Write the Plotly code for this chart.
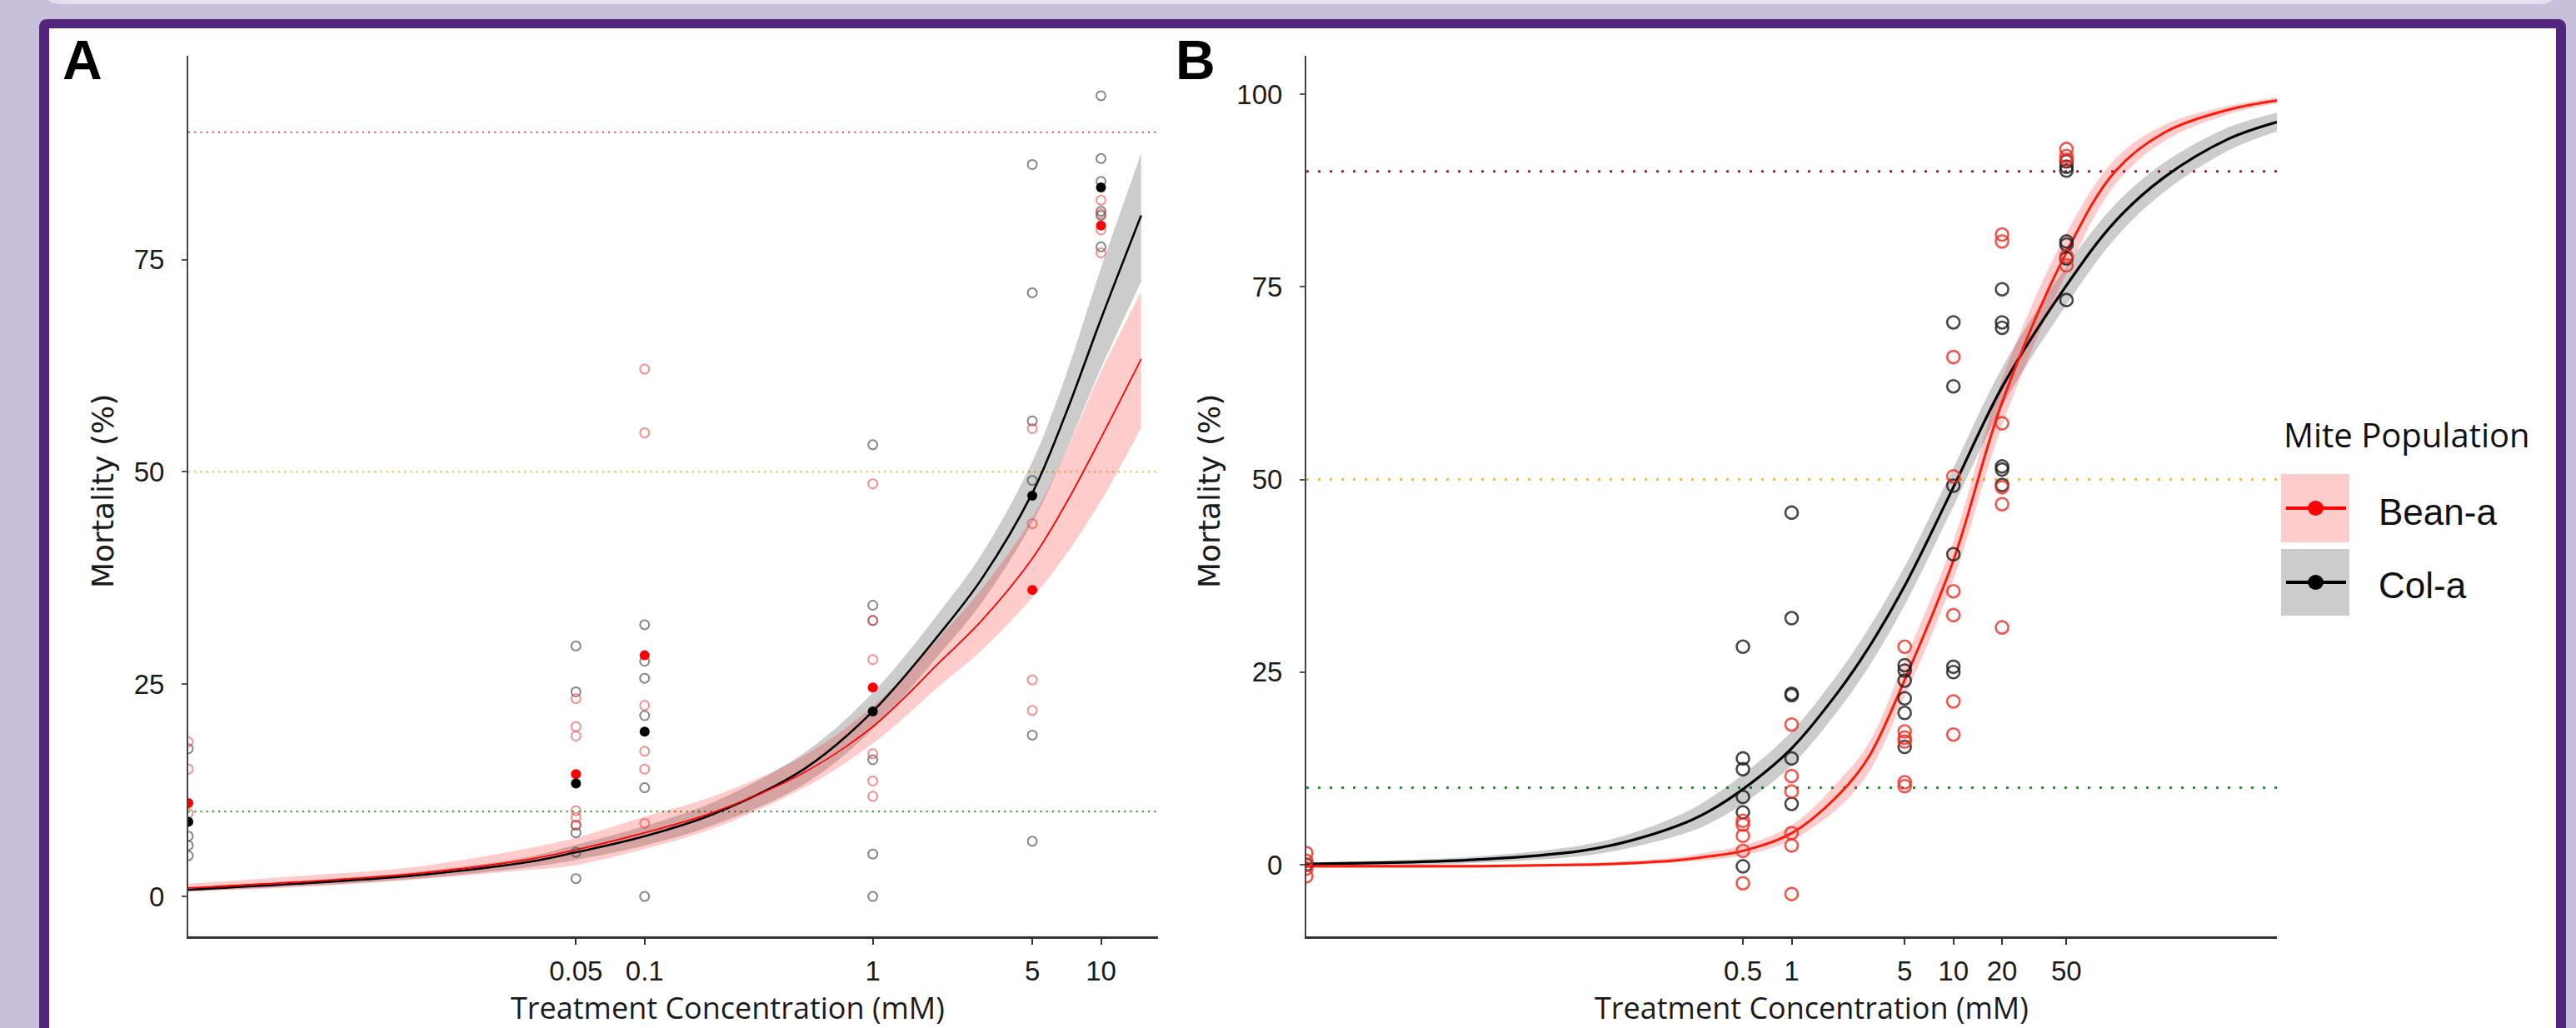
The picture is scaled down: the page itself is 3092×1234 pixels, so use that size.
import plotly.graph_objects as go

W, H = 3092, 1234

# ---------------- data ----------------
CONTROL = 0.001  # untreated controls are drawn at the left edge

# Panel A
A_tick_vals = [0.05, 0.1, 1, 5, 10]
A_tick_text = ["0.05", "0.1", "1", "5", "10"]
A_y_ticks = [0, 25, 50, 75]

A_fit_conc = [0.001, 0.003, 0.01, 0.03, 0.05, 0.1, 0.2, 0.5, 1, 2, 3, 5, 7, 10, 15]
A_col_fit = [0.8, 1.5, 2.5, 4.0, 5.2, 7.1, 9.7, 15.0, 21.8, 31.2, 37.4, 47.5, 56.8, 68.0, 80.2]
A_col_lo = [0.6, 1.2, 2.1, 3.4, 4.3, 6.0, 8.4, 13.2, 19.7, 28.8, 34.6, 44.0, 52.4, 62.2, 72.4]
A_col_hi = [1.0, 1.8, 2.9, 4.6, 6.1, 8.3, 11.1, 16.9, 24.0, 33.8, 40.3, 51.2, 61.3, 74.0, 87.5]
A_bean_fit = [1.0, 1.7, 2.7, 4.3, 5.5, 7.5, 9.9, 14.6, 20.0, 27.8, 32.5, 39.8, 46.2, 54.0, 63.3]
A_bean_lo = [0.6, 1.1, 2.0, 3.1, 3.7, 5.6, 8.0, 12.8, 18.0, 25.0, 29.0, 35.2, 40.2, 46.6, 55.2]
A_bean_hi = [1.5, 2.4, 3.5, 5.6, 6.9, 9.4, 11.8, 16.6, 22.4, 30.8, 36.2, 44.6, 52.4, 61.8, 71.2]

A_col_reps = {
    0.001: [17.4, 7.1, 6.0, 4.8],
    0.05: [29.5, 24.1, 8.4, 7.5, 5.2, 2.1],
    0.1: [32.0, 27.7, 25.7, 21.3, 12.8, 0.0],
    1: [53.2, 34.3, 32.5, 16.1, 5.0, 0.0],
    5: [86.2, 71.1, 56.0, 49.0, 19.0, 6.5],
    10: [94.3, 86.9, 84.2, 80.7, 80.2, 76.5],
}
A_bean_reps = {
    0.001: [18.2, 15.0, 9.8],
    0.05: [23.3, 20.0, 18.9, 10.1, 9.3, 8.4],
    0.1: [62.1, 54.6, 22.5, 17.1, 15.0, 8.6],
    1: [48.6, 32.5, 27.9, 16.8, 13.6, 11.8],
    5: [55.1, 43.9, 25.5, 21.9],
    10: [82.0, 80.4, 78.5, 75.8],
}
A_mean_conc = [0.001, 0.05, 0.1, 1, 5, 10]
A_col_mean = [8.8, 13.3, 19.4, 21.8, 47.2, 83.5]
A_bean_mean = [11.0, 14.4, 28.4, 24.6, 36.1, 79.0]

# Panel B
B_tick_vals = [0.5, 1, 5, 10, 20, 50]
B_tick_text = ["0.5", "1", "5", "10", "20", "50"]
B_y_ticks = [0, 25, 50, 75, 100]

B_fit_conc = [0.001, 0.01, 0.05, 0.1, 0.2, 0.3, 0.5, 1, 2, 3, 5, 10, 20, 50, 100, 200, 500, 1000]
B_col_fit = [0.1, 0.6, 1.8, 3.1, 5.1, 6.8, 9.8, 15.1, 22.8, 28.2, 36.2, 49.0, 62.0, 75.2, 83.5, 89.2, 94.2, 96.4]
B_col_lo = [-0.2, 0.2, 1.1, 2.2, 3.8, 5.2, 7.9, 12.9, 20.4, 25.7, 33.7, 46.5, 59.5, 72.7, 81.3, 87.3, 92.7, 95.2]
B_col_hi = [0.3, 1.0, 2.5, 4.0, 6.4, 8.4, 11.7, 17.3, 25.2, 30.7, 38.7, 51.5, 64.5, 77.7, 85.7, 91.1, 95.7, 97.6]
B_bean_fit = [-0.2, -0.2, 0.0, 0.2, 0.6, 1.05, 1.8, 4.1, 9.3, 14.0, 24.0, 39.5, 60.0, 79.5, 90.0, 95.0, 98.0, 99.2]
B_bean_lo = [-0.4, -0.4, -0.2, 0.0, 0.3, 0.6, 1.2, 3.2, 7.6, 12.0, 21.8, 37.0, 57.0, 76.8, 88.3, 93.9, 97.4, 98.8]
B_bean_hi = [0.0, 0.0, 0.2, 0.5, 1.0, 1.6, 2.5, 5.1, 11.1, 15.8, 26.5, 42.0, 63.0, 82.0, 91.6, 96.0, 98.5, 99.6]

B_col_reps = {
    0.001: [0.0],
    0.5: [28.3, 13.8, 12.4, 8.8, 6.8, -0.2],
    1: [45.7, 32.0, 22.2, 22.0, 13.8, 7.9],
    5: [25.9, 25.2, 23.9, 21.6, 19.7, 15.3],
    10: [70.4, 62.1, 49.2, 40.3, 25.7, 25.0],
    20: [74.7, 70.4, 69.7, 51.7, 51.3, 49.3],
    50: [91.3, 90.6, 90.1, 80.9, 80.5, 78.7, 73.3],
}
B_bean_reps = {
    0.001: [1.5, 0.5, -0.5, -1.5],
    0.5: [5.7, 5.2, 3.75, 1.8, -2.4],
    1: [18.2, 11.5, 9.5, 4.1, 2.5, -3.8],
    5: [28.3, 17.3, 16.5, 16.0, 10.7, 10.2],
    10: [65.9, 50.4, 35.5, 32.4, 21.2, 16.9],
    20: [81.8, 80.9, 57.3, 49.0, 46.8, 30.8],
    50: [92.9, 92.0, 91.5, 79.0, 77.8],
}

REF_LEVELS = [90, 50, 10]

# ---------------- helpers ----------------
def flat(d):
    xs, ys = [], []
    for k, vals in d.items():
        for v in vals:
            xs.append(k)
            ys.append(v)
    return xs, ys

def px(x):
    return x / W

def py(y):
    return 1 - y / H

fig = go.Figure()

def add_band(xv, lo, hi, color, xa, ya):
    fig.add_trace(go.Scatter(x=xv, y=lo, mode="lines", line=dict(width=0, shape="spline"),
                             xaxis=xa, yaxis=ya, showlegend=False, hoverinfo="skip"))
    fig.add_trace(go.Scatter(x=xv, y=hi, mode="lines", line=dict(width=0, shape="spline"),
                             fill="tonexty", fillcolor=color,
                             xaxis=xa, yaxis=ya, showlegend=False, hoverinfo="skip"))

RED_BAND = "rgba(255,0,0,0.2)"
GRAY_BAND = "rgba(0,0,0,0.2)"

# ---- Panel A ----
add_band(A_fit_conc, A_col_lo, A_col_hi, GRAY_BAND, "x", "y")
add_band(A_fit_conc, A_bean_lo, A_bean_hi, RED_BAND, "x", "y")
fig.add_trace(go.Scatter(x=A_fit_conc, y=A_col_fit, mode="lines",
                         line=dict(color="black", width=2.6, shape="spline"),
                         xaxis="x", yaxis="y", showlegend=False))
fig.add_trace(go.Scatter(x=A_fit_conc, y=A_bean_fit, mode="lines",
                         line=dict(color="#ff0000", width=1.8, shape="spline"),
                         xaxis="x", yaxis="y", showlegend=False))
xs, ys = flat(A_col_reps)
fig.add_trace(go.Scatter(x=xs, y=ys, mode="markers", xaxis="x", yaxis="y", showlegend=False,
                         marker=dict(symbol="circle-open", size=11,
                                     color="rgba(70,70,70,0.65)", line=dict(width=2))))
xs, ys = flat(A_bean_reps)
fig.add_trace(go.Scatter(x=xs, y=ys, mode="markers", xaxis="x", yaxis="y", showlegend=False,
                         marker=dict(symbol="circle-open", size=11,
                                     color="rgba(235,70,70,0.6)", line=dict(width=2))))
fig.add_trace(go.Scatter(x=A_mean_conc, y=A_bean_mean, mode="markers", xaxis="x", yaxis="y",
                         showlegend=False, marker=dict(symbol="circle", size=12, color="#ff0000")))
fig.add_trace(go.Scatter(x=A_mean_conc, y=A_col_mean, mode="markers", xaxis="x", yaxis="y",
                         showlegend=False, marker=dict(symbol="circle", size=12, color="black")))

# ---- Panel B ----
add_band(B_fit_conc, B_col_lo, B_col_hi, GRAY_BAND, "x2", "y2")
add_band(B_fit_conc, B_bean_lo, B_bean_hi, RED_BAND, "x2", "y2")
fig.add_trace(go.Scatter(x=B_fit_conc, y=B_col_fit, mode="lines",
                         line=dict(color="black", width=3.2, shape="spline"),
                         xaxis="x2", yaxis="y2", showlegend=False))
fig.add_trace(go.Scatter(x=B_fit_conc, y=B_bean_fit, mode="lines",
                         line=dict(color="#ff1a0a", width=3.0, shape="spline"),
                         xaxis="x2", yaxis="y2", showlegend=False))
xs, ys = flat(B_col_reps)
fig.add_trace(go.Scatter(x=xs, y=ys, mode="markers", xaxis="x2", yaxis="y2", showlegend=False,
                         marker=dict(symbol="circle-open", size=15,
                                     color="rgba(25,25,25,0.8)", line=dict(width=2.6))))
xs, ys = flat(B_bean_reps)
fig.add_trace(go.Scatter(x=xs, y=ys, mode="markers", xaxis="x2", yaxis="y2", showlegend=False,
                         marker=dict(symbol="circle-open", size=15,
                                     color="rgba(235,45,35,0.8)", line=dict(width=2.6))))

# ---------------- background / frame ----------------
shapes = []
LAV = "#c8bfdb"
PURPLE = "#52267f"

# light top band with rounded bottom corners
shapes.append(dict(type="path", xref="paper", yref="paper", layer="below",
                   path=(f"M {px(50):.6f},{py(-20):.6f} L {px(3072):.6f},{py(-20):.6f} "
                         f"Q {px(3072):.6f},{py(5):.6f} {px(3047):.6f},{py(5):.6f} "
                         f"L {px(75):.6f},{py(5):.6f} Q {px(50):.6f},{py(5):.6f} {px(50):.6f},{py(-20):.6f} Z"),
                   fillcolor="#e5e0ef", line=dict(width=0)))
# purple frame with rounded top corners
shapes.append(dict(type="path", xref="paper", yref="paper", layer="below",
                   path=(f"M {px(47):.6f},{py(1260):.6f} L {px(47):.6f},{py(33):.6f} "
                         f"Q {px(47):.6f},{py(23):.6f} {px(57):.6f},{py(23):.6f} "
                         f"L {px(3070):.6f},{py(23):.6f} Q {px(3080):.6f},{py(23):.6f} {px(3080):.6f},{py(33):.6f} "
                         f"L {px(3080):.6f},{py(1260):.6f} Z"),
                   fillcolor=PURPLE, line=dict(width=0)))
shapes.append(dict(type="rect", xref="paper", yref="paper", layer="below",
                   x0=px(59), x1=px(3068), y0=py(1260), y1=py(34),
                   fillcolor="white", line=dict(width=0)))

# reference (dotted) lines
A_ref_cols = {90: "#c0606a", 50: "#eec060", 10: "#4a9e4a"}
B_ref_cols = {90: "#8e2f40", 50: "#ecbd50", 10: "#33903a"}
for lvl in REF_LEVELS:
    shapes.append(dict(type="line", xref="x domain", yref="y", x0=0, x1=1, y0=lvl, y1=lvl,
                       line=dict(color=A_ref_cols[lvl], width=2.2, dash="2.2px,5px"), layer="below"))
    shapes.append(dict(type="line", xref="x2 domain", yref="y2", x0=0, x1=1, y0=lvl, y1=lvl,
                       line=dict(color=B_ref_cols[lvl], width=3, dash="3px,11px"), layer="below"))

# legend keys (drawn manually, ggplot style)
shapes.append(dict(type="rect", xref="paper", yref="paper", x0=px(2738), x1=px(2820), y0=py(651), y1=py(569),
                   fillcolor="#ffcccc", line=dict(width=0)))
shapes.append(dict(type="rect", xref="paper", yref="paper", x0=px(2738), x1=px(2820), y0=py(739), y1=py(659),
                   fillcolor="#cccccc", line=dict(width=0)))
for yc, col in [(610, "#ff0000"), (699, "black")]:
    shapes.append(dict(type="line", xref="paper", yref="paper", x0=px(2744), x1=px(2816), y0=py(yc), y1=py(yc),
                       line=dict(color=col, width=4)))
    shapes.append(dict(type="circle", xref="paper", yref="paper", x0=px(2770), x1=px(2789),
                       y0=py(yc + 9), y1=py(yc - 9), fillcolor=col, line=dict(width=0)))

# ---------------- annotations ----------------
ann = []
def text(x, y, s, size, family, xanchor="center", yanchor="middle", angle=0, color="black"):
    ann.append(dict(x=px(x), y=py(y), xref="paper", yref="paper", text=s, showarrow=False,
                    xanchor=xanchor, yanchor=yanchor, textangle=angle,
                    font=dict(size=size, family=family, color=color)))

text(73, 72, "<b>A</b>", 66, "Liberation Sans, Arial, sans-serif", xanchor="left")
text(1409, 72, "<b>B</b>", 66, "Liberation Sans, Arial, sans-serif", xanchor="left")
text(123, 590, "Mortality (%)", 36, "DejaVu Sans, Verdana, sans-serif", angle=-90, color="#1a1a1a")
text(1451, 590, "Mortality (%)", 36, "DejaVu Sans, Verdana, sans-serif", angle=-90, color="#1a1a1a")
text(873, 1209, "Treatment Concentration (mM)", 36, "Open Sans, sans-serif", color="#1a1a1a")
text(2174, 1209, "Treatment Concentration (mM)", 36, "Open Sans, sans-serif", color="#1a1a1a")
text(2889, 521, "Mite Population", 40, "Open Sans, sans-serif", color="#111")
text(2853, 614, "Bean-a", 44, "Liberation Sans, Arial, sans-serif", xanchor="left", color="#111")
text(2853, 702, "Col-a", 44, "Liberation Sans, Arial, sans-serif", xanchor="left", color="#111")

# ---------------- axes ----------------
tickfont = dict(family="Liberation Sans, Arial, sans-serif", size=33, color="#1a1a1a")
common_x = dict(type="log", showline=True, linewidth=3, linecolor="#333", ticks="outside",
                ticklen=7, tickwidth=2, tickcolor="#333", showgrid=False, zeroline=False,
                tickfont=tickfont, ticklabelstandoff=3)
common_y = dict(showline=True, linewidth=2, linecolor="#444", ticks="outside",
                ticklen=6, tickwidth=2, tickcolor="#555", showgrid=False, zeroline=False,
                tickfont=tickfont, ticklabelstandoff=14)

ydom = [1 - 1124 / H, 1 - 67 / H]
fig.update_layout(
    width=W, height=H,
    margin=dict(l=0, r=0, t=0, b=0),
    paper_bgcolor=LAV,
    plot_bgcolor="rgba(0,0,0,0)",
    showlegend=False,
    hovermode=False,
    shapes=shapes,
    annotations=ann,
    xaxis=dict(common_x, domain=[226 / W, 1390 / W], range=[-3, 1.25], anchor="y",
               tickvals=A_tick_vals, ticktext=A_tick_text),
    yaxis=dict(common_y, domain=ydom, range=[-4.7, 99], anchor="x", tickvals=A_y_ticks),
    xaxis2=dict(common_x, domain=[1568 / W, 2733 / W], range=[-3, 3], anchor="y2",
                tickvals=B_tick_vals, ticktext=B_tick_text),
    yaxis2=dict(common_y, domain=ydom, range=[-9.3, 105], anchor="x2", tickvals=B_y_ticks),
)

fig.write_html(
    "out.html",
    config={"displayModeBar": False, "staticPlot": True},
    post_script=("document.body.style.margin='0';document.body.style.padding='0';"
                 "document.body.style.overflow='hidden';"
                 "document.body.style.background='#c8bfdb';"),
)
